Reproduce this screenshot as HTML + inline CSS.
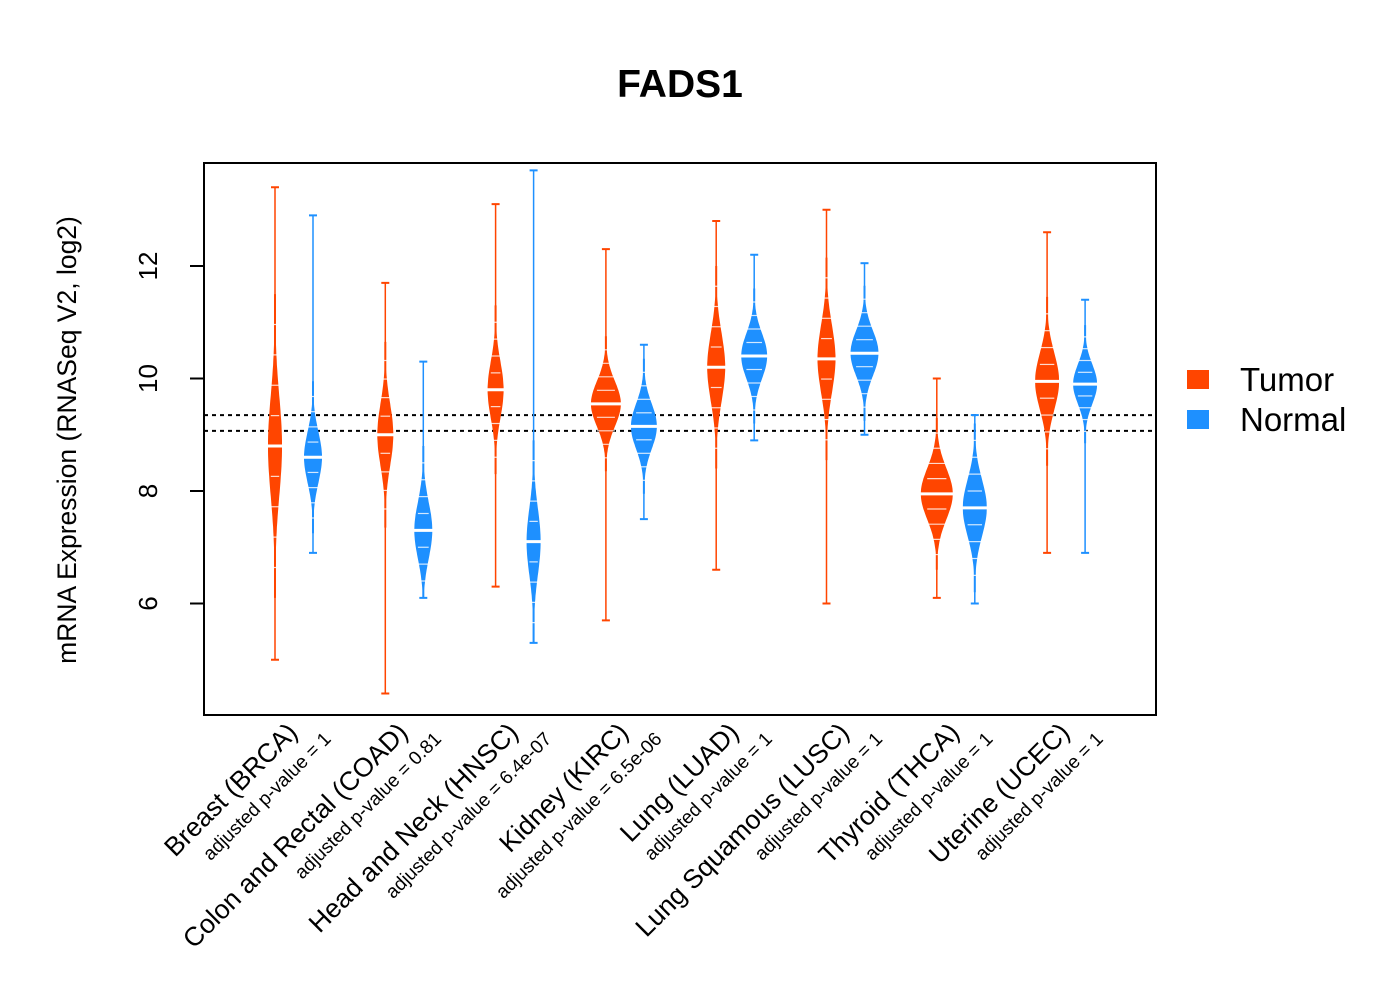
<!DOCTYPE html>
<html><head><meta charset="utf-8"><style>
body{margin:0;background:#fff;}
svg{display:block;font-family:"Liberation Sans",Arial,sans-serif;}
</style></head><body>
<svg id="chart" width="1400" height="1000" viewBox="0 0 1400 1000">
<rect width="1400" height="1000" fill="#fff"/>
<text x="680" y="97" font-size="39" font-weight="bold" text-anchor="middle">FADS1</text>
<g id="plot"></g>
<rect x="204" y="163" width="952" height="552" fill="none" stroke="#000" stroke-width="2"/>
<text transform="translate(76,440) rotate(-90)" font-size="26.5" text-anchor="middle">mRNA Expression (RNASeq V2, log2)</text>
<g>
<rect x="1187" y="370" width="22" height="19" fill="#FF4500"/>
<text x="1240" y="391" font-size="33">Tumor</text>
<rect x="1187" y="410" width="22" height="19" fill="#1E90FF"/>
<text x="1240" y="431" font-size="33">Normal</text>
</g>
</svg>
<script>
const categories=["Breast (BRCA)","Colon and Rectal (COAD)","Head and Neck (HNSC)","Kidney (KIRC)","Lung (LUAD)","Lung Squamous (LUSC)","Thyroid (THCA)","Uterine (UCEC)"];
const pvalues=["1","0.81","6.4e-07","6.5e-06","1","1","1","1"];
const tumorMedian=[8.8,9.0,9.8,9.55,10.2,10.35,7.95,9.95];
const tumorSd=[0.9,0.55,0.5,0.4,0.6,0.6,0.45,0.5];
const tumorMin=[5.0,4.4,6.3,5.7,6.6,6.0,6.1,6.9];
const tumorMax=[13.4,11.7,13.1,12.3,12.8,13.0,10.0,12.6];
const tumorWidth=[7,8,8,15,9,9,16,12];
const normalMedian=[8.6,7.3,7.1,9.15,10.4,10.45,7.7,9.9];
const normalSd=[0.45,0.5,0.6,0.4,0.4,0.4,0.5,0.35];
const normalMin=[6.9,6.1,5.3,7.5,8.9,9.0,6.0,6.9];
const normalMax=[12.9,10.3,13.7,10.6,12.2,12.05,9.35,11.4];
const normalWidth=[9,9,7,13,13,14,12,12];
const refLines=[9.35,9.07];
const yTicks=[6,8,10,12];

const NS="http://www.w3.org/2000/svg";
const X0=275, STEP=110.3, NOFF=38;
function yScale(v){return 378.5-(v-10)*56.25;}
function xTumor(i){return X0+i*STEP;}
const plot=document.getElementById('plot');
const svg=document.getElementById('chart');
function mk(tag,attrs,parent){const e=document.createElementNS(NS,tag);for(const k in attrs)e.setAttribute(k,attrs[k]);(parent||plot).appendChild(e);return e;}

refLines.forEach((v,i)=>{
  const l=mk('line',{x1:204,x2:1156,y1:yScale(v),y2:yScale(v),stroke:'#000','stroke-width':2,'stroke-dasharray':'4,4'});
  
  
});
yTicks.forEach(t=>{
  const y=yScale(t);
  const tk=mk('line',{x1:190,x2:204,y1:y,y2:y,stroke:'#000','stroke-width':2},svg);
  
  
  const tx=mk('text',{transform:`translate(157,${y}) rotate(-90)`,'font-size':26,'text-anchor':'middle'},svg);
  tx.textContent=t;
  
  
});
function bean(cx,med,sd,mn,mx,w,color,name){
  const g=mk('g',{});
  
  
  mk('line',{x1:cx,x2:cx,y1:yScale(mx),y2:yScale(mn),stroke:color,'stroke-width':1.5},g);
  const lo=Math.max(mn,med-3*sd), hi=Math.min(mx,med+3*sd);
  let right=[],left=[];
  const N=60;
  for(let k=0;k<=N;k++){
    const v=lo+(hi-lo)*k/N;
    const d=Math.exp(-0.5*Math.pow((v-med)/sd,2));
    const hw=Math.max(1,w*d);
    right.push([cx+hw,yScale(v)]);left.push([cx-hw,yScale(v)]);
  }
  const pts=right.concat(left.reverse()).map(p=>p[0].toFixed(1)+','+p[1].toFixed(1)).join(' ');
  mk('polygon',{points:pts,fill:color},g);
  [mn,mx].forEach(v=>{
    mk('line',{x1:cx-4,x2:cx+4,y1:yScale(v),y2:yScale(v),stroke:color,'stroke-width':2},g);
  });
  for(let k=1;k<=4;k++){
    const vb=med-sd*(0.6*k), vt=med+sd*(0.6*k);
    [vb,vt].forEach(v=>{ if(v>lo&&v<hi) mk('line',{x1:cx-w*0.6,x2:cx+w*0.6,y1:yScale(v),y2:yScale(v),stroke:'#fff','stroke-width':1.2,opacity:0.8},g);});
  }
  mk('line',{x1:cx-w-3,x2:cx+w+3,y1:yScale(med),y2:yScale(med),stroke:'#fff','stroke-width':3},g);
}
categories.forEach((c,i)=>{
  const xt=xTumor(i), xn=xt+NOFF;
  bean(xt,tumorMedian[i],tumorSd[i],tumorMin[i],tumorMax[i],tumorWidth[i],'#FF4500','bean-tumor-'+i);
  bean(xn,normalMedian[i],normalSd[i],normalMin[i],normalMax[i],normalWidth[i],'#1E90FF','bean-normal-'+i);
  const t=mk('text',{transform:`translate(${xt+24},734) rotate(-45)`,'font-size':26.5,'text-anchor':'end'},svg);
  t.textContent=c;
  
  
  const p=mk('text',{transform:`translate(${xt+57},740) rotate(-45)`,'font-size':19,'text-anchor':'end'},svg);
  p.textContent='adjusted p-value = '+pvalues[i];
  
  
});
</script>
</body></html>
